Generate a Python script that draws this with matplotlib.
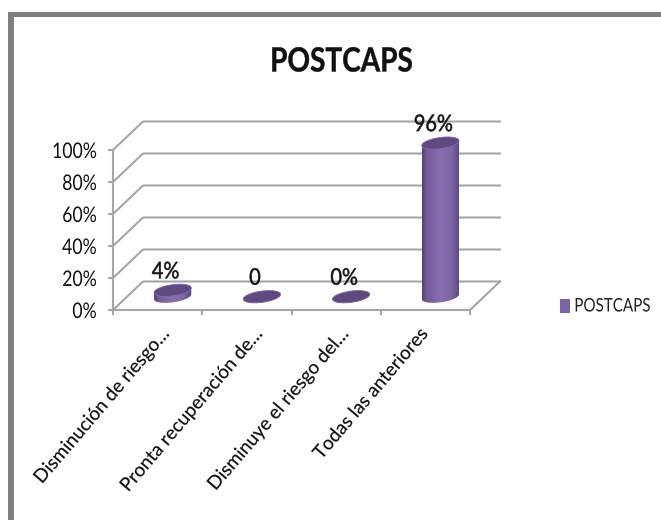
import numpy as np
import matplotlib
matplotlib.use("Agg")
import matplotlib.pyplot as plt
from matplotlib.colors import to_rgb
from matplotlib.patches import Polygon, Rectangle
from matplotlib.patheffects import AbstractPathEffect
from matplotlib.transforms import Affine2D

W, H = 661, 520
categories = ["Disminución de riesgo…", "Pronta recuperación de…",
              "Disminuye el riesgo del…", "Todas las anteriores"]
values = [4, 0, 0, 96]
value_labels = ["4%", "0", "0%", "96%"]
y_ticks = [0, 20, 40, 60, 80, 100]
title = "POSTCAPS"
series_name = "POSTCAPS"

FONT = "Lato"
DARK, LIGHT = "#54407a", "#8a6fb0"
TOP = "#5f4a80"
RIM = "#7d62a6"
KEY = "#7d62a6"
GRID = "#a6a6a6"
INK = "#111111"

# Front wall of the plot in figure pixels (y from the top); the axes run past 100
# so the tallest cylinder and its cap stay inside the image clip
LEFT, RIGHT, Y0, Y100 = 113, 470, 310, 150
DX, DY = 30, 28.5         # depth of the 3D floor
CAT = (RIGHT - LEFT) / 4
PX_PCT = (Y0 - Y100) / 100
YMAX = 125
LABEL_NUDGE = [2, 6, 3, -7]   # horizontal offset of each slanted category label, px


class Condense(AbstractPathEffect):
    """Narrow the glyphs horizontally about one end or the middle of the text."""

    def __init__(self, factor, anchor="center", weight=0.0):
        super().__init__()
        self.factor, self.anchor, self.weight = factor, anchor, weight

    def draw_path(self, renderer, gc, tpath, affine, rgbFace=None):
        box = tpath.get_extents()
        x = {"left": box.x0, "center": (box.x0 + box.x1) / 2, "right": box.x1}[self.anchor]
        squeeze = Affine2D().translate(-x, 0).scale(self.factor, 1).translate(x, 0)
        gc0 = renderer.new_gc()
        gc0.copy_properties(gc)
        if self.weight:
            gc0.set_foreground(rgbFace)
            gc0.set_linewidth(self.weight)
        else:
            gc0.set_linewidth(0)
        renderer.draw_path(gc0, tpath, squeeze + affine, rgbFace)
        gc0.restore()


fig = plt.figure(figsize=(W / 100, H / 100), dpi=100, facecolor="white")
ax = fig.add_axes([LEFT / W, 1 - Y0 / H, (RIGHT - LEFT) / W, YMAX * PX_PCT / H])
ax.patch.set_visible(False)
for s in ("top", "right"):
    ax.spines[s].set_visible(False)
for s in ("left", "bottom"):
    ax.spines[s].set_color(GRID)
    ax.spines[s].set_linewidth(1.5)
ax.spines["left"].set_bounds(0, 100)

ddx, ddy = DX / CAT, DY / PX_PCT

# Side wall and gridlines
for t in y_ticks:
    ax.plot([0, ddx, 4 + ddx], [t, t + ddy, t + ddy], color=GRID, lw=1.5,
            clip_on=False, zorder=1)
ax.plot([4, 4 + ddx], [0, ddy], color=GRID, lw=1.5, clip_on=False, zorder=1)

ax.set_yticks(y_ticks)
ax.set_yticklabels([f"{t}%" for t in y_ticks], fontsize=15.5, family=FONT, color=INK)
ax.set_xticks(range(5))
ax.set_xticklabels([])
ax.tick_params(axis="both", color=GRID, width=1.5, length=3.6)
ax.tick_params(axis="y", pad=8)
for lab in ax.get_yticklabels():
    lab.set_path_effects([Condense(0.82, "right")])

for i, c in enumerate(categories):
    text = ax.annotate(c, xy=(i + 0.5, 0), xytext=(LABEL_NUDGE[i], -15),
                       textcoords="offset pixels", rotation=49.5, ha="right", va="top",
                       rotation_mode="anchor", fontsize=13.6, family=FONT, color=INK,
                       annotation_clip=False)
    text.set_path_effects([Condense(1.0, "right", 0.15)])


def ellipse(cx, cy, t):
    """Tilted ellipse outline in data units around a centre given in data units."""
    a, b, tilt = 18.8, 5.6, np.radians(8)
    ex = a * np.cos(t) * np.cos(tilt) + b * np.sin(t) * np.sin(tilt)
    ey = a * np.cos(t) * np.sin(tilt) - b * np.sin(t) * np.cos(tilt)
    return cx + ex / CAT, cy + ey / PX_PCT


t_all = np.linspace(0, 2 * np.pi, 90)
t_low = np.linspace(0, np.pi, 45)
shade = np.interp(np.linspace(0, 1, 128), [0, .12, .5, .8, 1], [0, .6, 1, .75, .1])
dark, light = np.array(to_rgb(DARK)), np.array(to_rgb(LIGHT))
ramp = (dark + (light - dark) * shade[:, None])[None, :, :]

for i, v in enumerate(values):
    cx = i + 0.5 + 15 / CAT
    cy = 8.3
    tx, ty = ellipse(cx, cy + v, t_all)
    if v > 0:
        # Cylinder body: lower half of the base joined to the upper rim
        bx, by = ellipse(cx, cy, t_low)
        rx, ry = ellipse(cx, cy + v, t_low[::-1])
        body = Polygon(np.column_stack([np.r_[bx, rx], np.r_[by, ry]]), closed=True,
                       facecolor="none", edgecolor="none", transform=ax.transData)
        ax.add_patch(body)
        im = ax.imshow(ramp, extent=[bx.min(), bx.max(), cy - 6, cy + v + 6],
                       aspect="auto", zorder=3)
        im.set_clip_path(body)
    ax.add_patch(Polygon(np.column_stack([tx, ty]), closed=True, facecolor=TOP,
                         edgecolor=RIM, lw=0.6, zorder=4, clip_on=False))
    label = ax.annotate(value_labels[i], xy=(cx, cy + v), xytext=(-7, 12),
                        textcoords="offset pixels", ha="center", va="baseline",
                        fontsize=16.5, family=FONT, color=INK, annotation_clip=False,
                        zorder=5)
    label.set_path_effects([Condense(0.87, "center", 0.35)])
ax.set_xlim(0, 4)
ax.set_ylim(0, YMAX)

# Legend key and label
fig.add_artist(Rectangle((560 / W, 1 - 313 / H), 10 / W, 14 / H, transform=fig.transFigure,
                         facecolor=KEY, edgecolor="none"))
legend_text = fig.text(612.5 / W, 1 - 306 / H, series_name, fontsize=13.5, family=FONT,
                       color="#222222", va="center", ha="center")
legend_text.set_path_effects([Condense(0.81, "center")])

title_text = fig.text(341.5 / W, 1 - 62 / H, title, fontsize=24, family=FONT,
                      fontweight="bold", color=INK, ha="center", va="center")
title_text.set_path_effects([Condense(0.84, "center", 0.3)])

# Slide frame: thick grey rules along the top and left
fig.add_artist(Rectangle((8 / W, 1 - 17 / H), (W - 8) / W, 5 / H, transform=fig.transFigure,
                         facecolor="#7f7f7f", edgecolor="none"))
fig.add_artist(Rectangle((8 / W, 0), 6 / W, 1 - 12 / H, transform=fig.transFigure,
                         facecolor="#7f7f7f", edgecolor="none"))

fig.savefig("out.png", dpi=100)
